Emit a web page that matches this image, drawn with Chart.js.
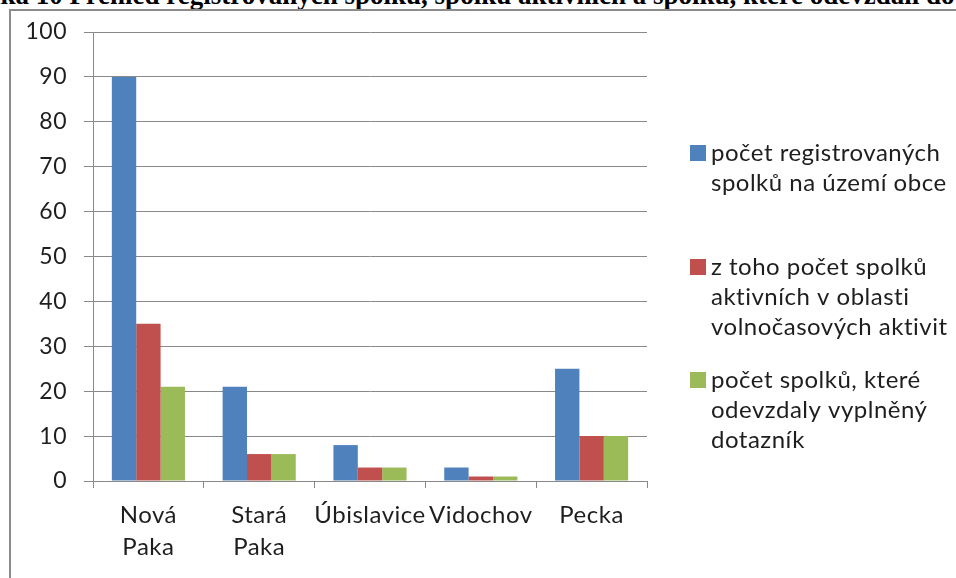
<!DOCTYPE html>
<html>
<head>
<meta charset="utf-8">
<script src="https://cdn.jsdelivr.net/npm/chart.js@4"></script>
<style>
  html, body { margin: 0; padding: 0; background: #fff; overflow: hidden; }
  body { width: 956px; height: 578px; position: relative; }
  #caption {
    position: absolute; left: -66px; top: -15px; white-space: nowrap;
    font: bold 27px/20px "Liberation Serif", "Times New Roman", serif; color: #000;
  }
  #frame {
    position: absolute; left: 9px; top: 9px; width: 960px; height: 580px;
    border-left: 2px solid #8c8c8c; border-top: 2px solid #8c8c8c;
  }
  #graf { position: absolute; left: 0; top: 0; }
</style>
</head>
<body>
<div id="caption">Tabulka 10 Přehled registrovaných spolků, spolků aktivních a spolků, které odevzdali dotazník</div>
<div id="frame"></div>
<canvas id="graf" width="956" height="578"></canvas>
<script>
// obce
var obce = [["Nová", "Paka"], ["Stará", "Paka"], "Úbislavice", "Vidochov", "Pecka"];

// počty spolků
var registrovane = [90, 21, 8, 3, 25];
var aktivni = [35, 6, 3, 1, 10];
var dotaznik = [21, 6, 3, 1, 10];

var legenda = [
    ["počet registrovaných", "spolků na území obce"],
    ["z toho počet spolků", "aktivních v oblasti", "volnočasových aktivit"],
    ["počet spolků, které", "odevzdaly vyplněný", "dotazník"]
];

var pismo = "Lato, 'Open Sans', sans-serif";
var sedaCara = "#898989";

// trochu širší písmo
var prolozeni = {
    id: "prolozeni",
    beforeDraw: function (chart) {
        chart.ctx.letterSpacing = "0.5px";
    }
};

// legenda vpravo, víceřádkové popisky
var legendaPlugin = {
    id: "legendaVpravo",
    afterDraw: function (chart) {
        var ctx = chart.ctx;
        var radky = [153, 267, 380];
        ctx.save();
        ctx.font = "24px " + pismo;
        ctx.textBaseline = "middle";
        ctx.textAlign = "left";
        chart.data.datasets.forEach(function (ds, i) {
            var y = radky[i];
            ctx.fillStyle = ds.backgroundColor;
            ctx.fillRect(690, y - 8, 16, 16);
            ctx.fillStyle = "#1e1e1e";
            legenda[i].forEach(function (t, j) {
                ctx.fillText(t, 711, y + j * 30);
            });
        });
        ctx.restore();
    }
};

const graf = new Chart(document.getElementById("graf"), {
    type: 'bar',
    data: {
        labels: obce,
        datasets: [{
            label: legenda[0].join(" "),
            data: registrovane,
            backgroundColor: '#4F81BD'
        }, {
            label: legenda[1].join(" "),
            data: aktivni,
            backgroundColor: '#C0504D'
        }, {
            label: legenda[2].join(" "),
            data: dotaznik,
            backgroundColor: '#9BBB59'
        }]
    },
    options: {
        responsive: false,
        animation: false,
        devicePixelRatio: 1,
        layout: { padding: { left: 0, top: 32, right: 309, bottom: 0 } },
        datasets: { bar: { categoryPercentage: 0.66, barPercentage: 1 } },
        plugins: {
            legend: { display: false },
            tooltip: { enabled: false }
        },
        scales: {
            x: {
                grid: {
                    offset: true,
                    drawOnChartArea: false,
                    color: sedaCara,
                    tickLength: 7
                },
                border: { color: sedaCara },
                ticks: {
                    padding: 12,
                    color: "#1e1e1e",
                    font: { family: pismo, size: 24, lineHeight: 1.3 },
                    maxRotation: 0,
                    autoSkip: false
                },
                afterFit: function (scale) { scale.height = 97; }
            },
            y: {
                min: 0,
                max: 100,
                grid: { color: sedaCara, tickLength: 9 },
                border: { color: sedaCara },
                ticks: {
                    stepSize: 10,
                    padding: 17,
                    color: "#1e1e1e",
                    font: { family: pismo, size: 23 }
                },
                afterFit: function (scale) { scale.width = 93; }
            }
        }
    },
    plugins: [prolozeni, legendaPlugin]
});
</script>
</body>
</html>
